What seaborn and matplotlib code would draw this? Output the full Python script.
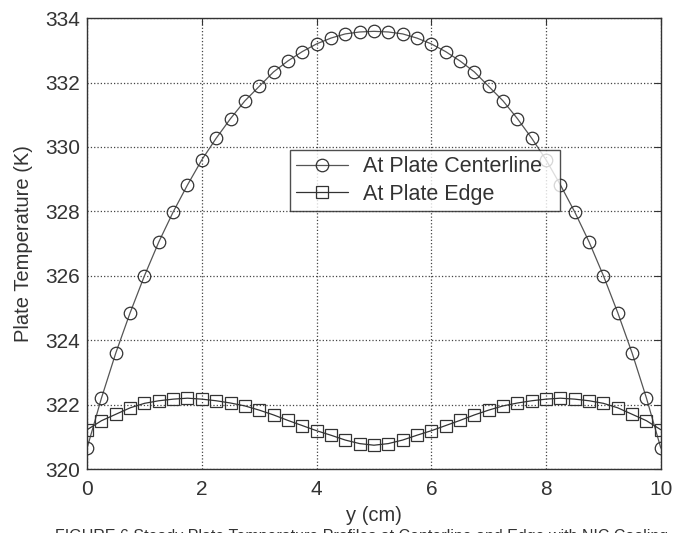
import numpy as np
import pandas as pd
import seaborn as sns
import matplotlib
import matplotlib.pyplot as plt

matplotlib.use('agg')

# positions across the plate (cm), every 0.25 cm
y_cm = [i * 0.25 for i in range(41)]

# temperature at the centerline, first half (0 .. 5 cm), mirrored for 5 .. 10
center_half = [320.65, 322.2, 323.6, 324.85, 326.0, 327.05, 327.98, 328.82,
               329.6, 330.27, 330.88, 331.43, 331.88, 332.33, 332.67, 332.96,
               333.2, 333.38, 333.51, 333.57, 333.59]
# temperature at the plate edge, first half (0 .. 5 cm)
edge_half = [321.22, 321.5, 321.7, 321.9, 322.04, 322.12, 322.17, 322.2,
             322.17, 322.12, 322.05, 321.96, 321.83, 321.68, 321.51, 321.35,
             321.19, 321.05, 320.9, 320.79, 320.74]

center_temp = center_half + center_half[-2::-1]
edge_temp = edge_half + edge_half[-2::-1]

sns.set_style("white")
plt.rcParams['font.family'] = ['Liberation Sans', 'DejaVu Sans']

fig = plt.figure(figsize=(6.75, 5.33), dpi=100)
ax = fig.add_axes([0.129, 0.12, 0.85, 0.846])

df = pd.DataFrame({'y': y_cm, 'center': center_temp, 'edge': edge_temp})

sns.lineplot(data=df, x='y', y='center', ax=ax, color='#555555', lw=0.9,
             marker='o', markersize=9, mfc='none', mec='#333333', mew=0.9,
             label='At Plate Centerline')
sns.lineplot(data=df, x='y', y='edge', ax=ax, color='#333333', lw=0.9,
             marker='s', markersize=9, mfc='none', mec='#333333', mew=0.9,
             label='At Plate Edge')

ax.set_xlim(0, 10)
ax.set_ylim(320, 334)
ax.set_xticks([0, 2, 4, 6, 8, 10])
ax.set_yticks(np.arange(320, 335, 2))
ax.grid(True, linestyle=':', color='#444444', linewidth=0.9)
ax.tick_params(direction='in', top=True, right=True, labelsize=15,
               length=5, color='#333333', labelcolor='#333333')
ax.tick_params(axis='x', pad=8)
ax.tick_params(axis='y', pad=5)
for s in ax.spines.values():
    s.set_color('#333333')
    s.set_linewidth(1.0)

ax.set_xlabel('y (cm)', fontsize=14.5, color='#333333', labelpad=5)
ax.set_ylabel('Plate Temperature (K)', fontsize=14.5, color='#333333', labelpad=9)

handles, labels = ax.get_legend_handles_labels()
leg = ax.legend(handles, [lab + '\u00a0\u00a0' for lab in labels],
                loc='upper left', bbox_to_anchor=(0.354, 0.707), fontsize=15.5,
                frameon=True, fancybox=False, edgecolor='#222222',
                handlelength=2.4, handletextpad=0.7, borderpad=0.28,
                labelspacing=0.3, borderaxespad=0)
leg.get_frame().set_linewidth(1.0)
for t in leg.get_texts():
    t.set_color('#333333')

fig.text(0.082, -0.006, 'FIGURE 6 Steady Plate Temperature Profiles at Centerline and Edge with NIC Cooling',
         ha='left', va='center', fontsize=11.5, color='#333333')

fig.savefig('out.png', dpi=100)
